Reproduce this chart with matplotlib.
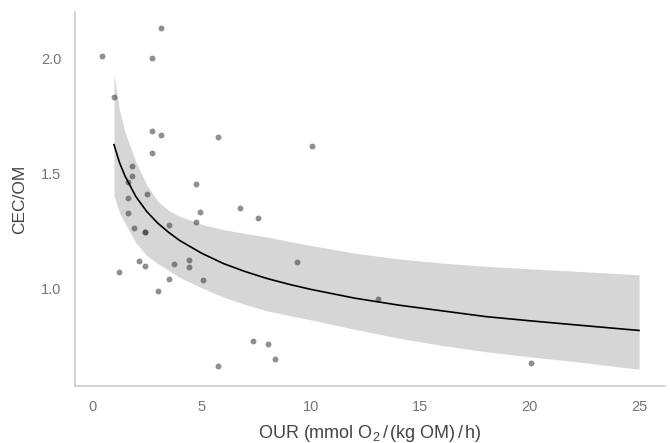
import matplotlib
matplotlib.use("Agg")
import matplotlib.pyplot as plt

plt.rcParams['font.family'] = ['Liberation Sans', 'DejaVu Sans']
plt.rcParams['mathtext.fontset'] = 'custom'
plt.rcParams['mathtext.rm'] = 'Liberation Sans'
plt.rcParams['mathtext.it'] = 'Liberation Sans'
plt.rcParams['mathtext.bf'] = 'Liberation Sans'

# observed points (OUR, CEC/OM)
our = [0.44, 3.15, 2.75, 1.02, 2.75, 3.15, 5.75, 10.06, 2.75, 1.84,
       1.84, 1.64, 2.53, 1.64, 4.75, 1.64, 4.93, 6.74, 7.57, 1.93,
       2.44, 2.44, 3.53, 4.75, 2.15, 2.44, 1.25, 3.74, 4.43, 4.43,
       3.53, 5.05, 3.03, 9.35, 13.07, 7.34, 8.05, 8.34, 5.75, 20.06]
cec_om = [2.01, 2.13, 2.00, 1.83, 1.685, 1.667, 1.658, 1.62, 1.59, 1.534,
          1.49, 1.465, 1.41, 1.394, 1.453, 1.33, 1.332, 1.349, 1.306, 1.264,
          1.245, 1.245, 1.278, 1.29, 1.121, 1.10, 1.074, 1.11, 1.124, 1.095,
          1.043, 1.039, 0.991, 1.116, 0.955, 0.775, 0.76, 0.697, 0.668, 0.677]

# fitted curve and confidence band
fit_x = [1.0, 1.25, 1.5, 2, 2.5, 3, 3.5, 4, 5, 6, 7, 8, 9, 10, 12, 14, 16, 18, 20, 22, 25]
fit_y = [1.625, 1.548, 1.49, 1.40, 1.335, 1.285, 1.245, 1.21, 1.155, 1.11, 1.075,
         1.045, 1.02, 0.998, 0.96, 0.93, 0.905, 0.88, 0.862, 0.845, 0.82]
fit_hi = [1.93, 1.775, 1.68, 1.55, 1.45, 1.38, 1.34, 1.315, 1.28, 1.257, 1.24,
          1.225, 1.206, 1.188, 1.155, 1.13, 1.112, 1.098, 1.087, 1.077, 1.061]
fit_lo = [1.405, 1.33, 1.285, 1.20, 1.145, 1.11, 1.08, 1.05, 1.005, 0.965, 0.932,
          0.905, 0.885, 0.866, 0.825, 0.787, 0.755, 0.728, 0.706, 0.686, 0.652]

x_ticks = [0, 5, 10, 15, 20, 25]
y_ticks = [1.0, 1.5, 2.0]

fig = plt.figure(figsize=(6.7, 4.43), dpi=100)
ax = fig.add_axes([0.112, 0.129, 0.881, 0.844])

ax.fill_between(fit_x, fit_lo, fit_hi, color='#d6d6d6', linewidth=0, zorder=1)
ax.scatter(our, cec_om, s=18, color='#333333', alpha=0.55, linewidths=0, zorder=2)
ax.plot(fit_x, fit_y, color='black', linewidth=1.2, zorder=3)

ax.set_xlim(-0.78, 26.2)
ax.set_ylim(0.58, 2.2)
ax.set_xticks(x_ticks)
ax.set_xticklabels([str(t) for t in x_ticks])
ax.set_yticks(y_ticks)
ax.set_yticklabels(['%.1f' % t for t in y_ticks])
ax.tick_params(length=0, labelsize=10.5, labelcolor='#757575', pad=10)

for s in ['top', 'right']:
    ax.spines[s].set_visible(False)
for s in ['left', 'bottom']:
    ax.spines[s].set_color('#cccccc')
    ax.spines[s].set_linewidth(1.2)

ax.set_xlabel(r'OUR (mmol O$_2$$\,$/$\,$(kg OM)$\,$/$\,$h)', fontsize=13, color='#444444', labelpad=7)
ax.set_ylabel('CEC/OM', fontsize=12.5, color='#444444', labelpad=10)

fig.savefig('out.png', dpi=100)
